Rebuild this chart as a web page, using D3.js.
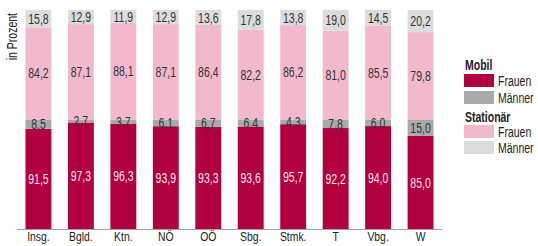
<!DOCTYPE html>
<html>
<head>
<meta charset="utf-8">
<script src="https://cdn.jsdelivr.net/npm/d3@7"></script>
<style>
  body { margin: 0; background: #fff; }
  text { font-family: "Liberation Sans", Arial, sans-serif; }
</style>
</head>
<body>
<svg id="chart" width="538" height="246"></svg>
<script>
// categories and values (in Prozent)
var categories = ["Insg.", "Bgld.", "Ktn.", "NÖ", "OÖ", "Sbg.", "Stmk.", "T", "Vbg.", "W"];
var mobilFrauen = [91.5, 97.3, 96.3, 93.9, 93.3, 93.6, 95.7, 92.2, 94.0, 85.0];
var mobilMaenner = [8.5, 2.7, 3.7, 6.1, 6.7, 6.4, 4.3, 7.8, 6.0, 15.0];
var statFrauen = [84.2, 87.1, 88.1, 87.1, 86.4, 82.2, 86.2, 81.0, 85.5, 79.8];
var statMaenner = [15.8, 12.9, 11.9, 12.9, 13.6, 17.8, 13.8, 19.0, 14.5, 20.2];

var seriesKeys = ["mobilFrauen", "mobilMaenner", "statFrauen", "statMaenner"];
var colors = {
    mobilFrauen: "#b00040",
    mobilMaenner: "#a8a9ab",
    statFrauen: "#f2b9cd",
    statMaenner: "#dcdcdd"
};
var labelColors = {
    mobilFrauen: "#f6e3ea",
    mobilMaenner: "#333",
    statFrauen: "#333",
    statMaenner: "#333"
};

//the original font is a narrow one, so squeeze everything horizontally
var squeeze = 0.75;

var rows = categories.map(function (c, i) {
    return {
        cat: c,
        mobilFrauen: mobilFrauen[i],
        mobilMaenner: mobilMaenner[i],
        statFrauen: statFrauen[i],
        statMaenner: statMaenner[i]
    };
});

var svg = d3.select("#chart");
var margin = {top: 10, left: 17, right: 96, bottom: 17};
var width = 538 - margin.left - margin.right;
var height = 246 - margin.top - margin.bottom;

var g = svg.append("g")
    .attr("transform", "translate(" + margin.left + "," + margin.top + ")");

var x = d3.scaleBand()
    .domain(categories)
    .range([0, width])
    .paddingInner(0.39)
    .paddingOuter(0.2);

// two stacks of 100% each
var y = d3.scaleLinear()
    .domain([0, 200])
    .range([height, 0]);

var stack = d3.stack().keys(seriesKeys)(rows);

var layer = g.selectAll(".layer")
    .data(stack)
    .enter().append("g")
    .attr("class", "layer")
    .attr("fill", function (d) { return colors[d.key]; });

layer.selectAll("rect")
    .data(function (d) { return d; })
    .enter().append("rect")
    .attr("x", function (d) { return x(d.data.cat); })
    .attr("width", x.bandwidth())
    .attr("y", function (d) { return y(d[1]); })
    .attr("height", function (d) { return y(d[0]) - y(d[1]); });

// value labels
stack.forEach(function (s) {
    g.selectAll(".lbl-" + s.key)
        .data(s)
        .enter().append("text")
        .attr("transform", function (d) {
            var cx = x(d.data.cat) + x.bandwidth() / 2;
            var cy = (y(d[0]) + y(d[1])) / 2;
            return "translate(" + cx + "," + cy + ") scale(" + squeeze + ",1)";
        })
        .attr("dy", "0.36em")
        .attr("text-anchor", "middle")
        .attr("font-size", 14)
        .attr("fill", labelColors[s.key])
        .text(function (d) { return d3.format(".1f")(d[1] - d[0]).replace(".", ","); });
});

// x axis
var xAxis = g.append("g")
    .attr("transform", "translate(0," + height + ")")
    .call(d3.axisBottom(x).tickSize(0).tickPadding(3));
xAxis.select(".domain").attr("stroke", "#a0a0a0").attr("d", "M0,0.5H" + width);
xAxis.selectAll("text")
    .attr("font-size", 13)
    .attr("fill", "#222")
    .attr("transform", "scale(0.8,1)")
    .style("font-family", "'Liberation Sans', Arial, sans-serif");

// y label
svg.append("text")
    .attr("transform", "translate(17,13) rotate(-90) scale(" + squeeze + ",1)")
    .attr("text-anchor", "end")
    .attr("font-size", 14)
    .attr("fill", "#222")
    .text("in Prozent");

// legend
var legend = svg.append("g").attr("transform", "translate(464,0)");
var legendItems = [
    {type: "head", text: "Mobil", y: 65},
    {type: "item", key: "mobilFrauen", text: "Frauen", y: 74},
    {type: "item", key: "mobilMaenner", text: "Männer", y: 91},
    {type: "head", text: "Stationär", y: 117},
    {type: "item", key: "statFrauen", text: "Frauen", y: 125},
    {type: "item", key: "statMaenner", text: "Männer", y: 141}
];
legendItems.forEach(function (it) {
    if (it.type == "head") {
        legend.append("text")
            .attr("transform", "translate(1," + it.y + ") scale(" + squeeze + ",1)")
            .attr("dy", "0.36em")
            .attr("font-size", 14)
            .attr("font-weight", "bold")
            .attr("fill", "#222")
            .text(it.text);
    } else {
        legend.append("rect")
            .attr("x", 0)
            .attr("y", it.y)
            .attr("width", 30)
            .attr("height", 13)
            .attr("fill", colors[it.key]);
        legend.append("text")
            .attr("transform", "translate(34," + (it.y + 6.5) + ") scale(" + squeeze + ",1)")
            .attr("dy", "0.36em")
            .attr("font-size", 14)
            .attr("fill", "#222")
            .text(it.text);
    }
});
</script>
</body>
</html>
